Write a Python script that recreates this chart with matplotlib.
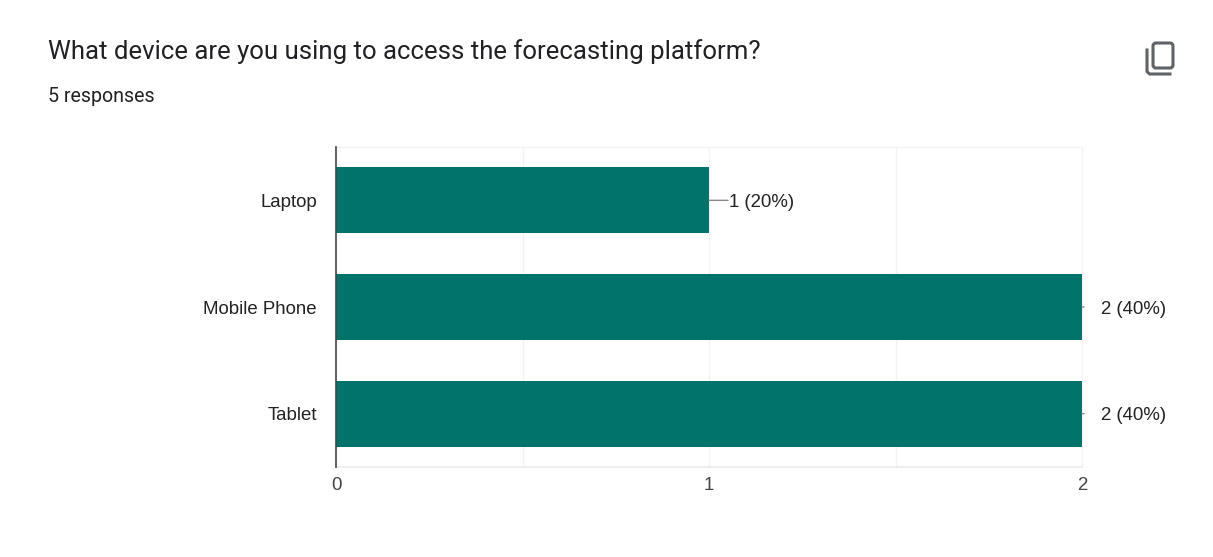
import matplotlib
matplotlib.use("Agg")
import matplotlib.pyplot as plt
from matplotlib.patches import FancyBboxPatch
from matplotlib.lines import Line2D

categories = ["Laptop", "Mobile Phone", "Tablet"]
counts = [1, 2, 2]
value_labels = ["1 (20%)", "2 (40%)", "2 (40%)"]
x_ticks = [0, 1, 2]
x_grid = [0.5, 1, 1.5, 2]
title = "What device are you using to access the forecasting platform?"
subtitle = "5 responses"

W, H = 1213, 557
BAR = "#02736a"
GRID = "#f3f3f3"
TEXT = "#222222"
LABEL_SIZE = 13.4

fig = plt.figure(figsize=(W / 100, H / 100), dpi=100, facecolor="white")


def fx(px):
    return px / W


def fy(py):
    return 1 - py / H


ax = fig.add_axes([fx(336), fy(467), fx(1082 - 336), (467 - 147) / H])
ax.set_xlim(0, 2)
ax.set_ylim(2.5, -0.5)
ax.set_axisbelow(True)

for g in x_grid:
    ax.axvline(g, color=GRID, lw=1.0, zorder=0, clip_on=False)
ax.axhline(-0.5, color=GRID, lw=1.0, zorder=0, clip_on=False)
ax.axhline(2.5, color="#ececec", lw=1.2, zorder=0, clip_on=False)

ax.barh(range(len(categories)), counts, height=0.62, color=BAR, zorder=2)
ax.axvline(0, color="#444444", lw=1.2, zorder=3, clip_on=False)

for s in ax.spines.values():
    s.set_visible(False)

ax.set_yticks(range(len(categories)), categories, family="Liberation Sans",
              fontsize=LABEL_SIZE, color=TEXT, va="center_baseline")
ax.set_xticks(x_ticks, [str(t) for t in x_ticks], family="Liberation Sans",
              fontsize=LABEL_SIZE, color="#444444")
ax.tick_params(axis="y", length=0, pad=13.6)
ax.tick_params(axis="x", length=0, pad=7)

# Value labels; the short bar gets a leader line, the full-width ones only a stub
for i, (v, lab) in enumerate(zip(counts, value_labels)):
    offset = 14.2 if v < max(counts) else 13.5
    ax.annotate(lab, xy=(v, i), xytext=(offset, 0), textcoords="offset points",
                va="center_baseline", ha="left", family="Liberation Sans",
                fontsize=LABEL_SIZE, color=TEXT, annotation_clip=False)
    reach = offset - 0.5 if v < max(counts) else 1.5
    ax.annotate("", xy=(v, i), xytext=(reach, 0), textcoords="offset points",
                annotation_clip=False,
                arrowprops=dict(arrowstyle="-", color="#888888", lw=1,
                                shrinkA=0, shrinkB=0))

fig.text(fx(48), fy(52), title, family="Roboto", fontsize=18.55, color="#202124",
         va="center", ha="left")
fig.text(fx(48), fy(96), subtitle, family="Roboto", fontsize=14.1, color="#202124",
         va="center", ha="left")

# Copy icon in the top right corner
icon = "#5f6368"
fig.add_artist(FancyBboxPatch((1153, H - 68), 20, 25,
                              boxstyle="round,pad=0,rounding_size=3",
                              fc="none", ec=icon, lw=2.2,
                              transform=None))
fig.add_artist(Line2D([1147, 1147, 1149.5, 1170], [H - 50, H - 71.5, H - 74, H - 74],
                      color=icon, lw=2.2, transform=None))

fig.savefig("out.png", dpi=100, facecolor="white")
